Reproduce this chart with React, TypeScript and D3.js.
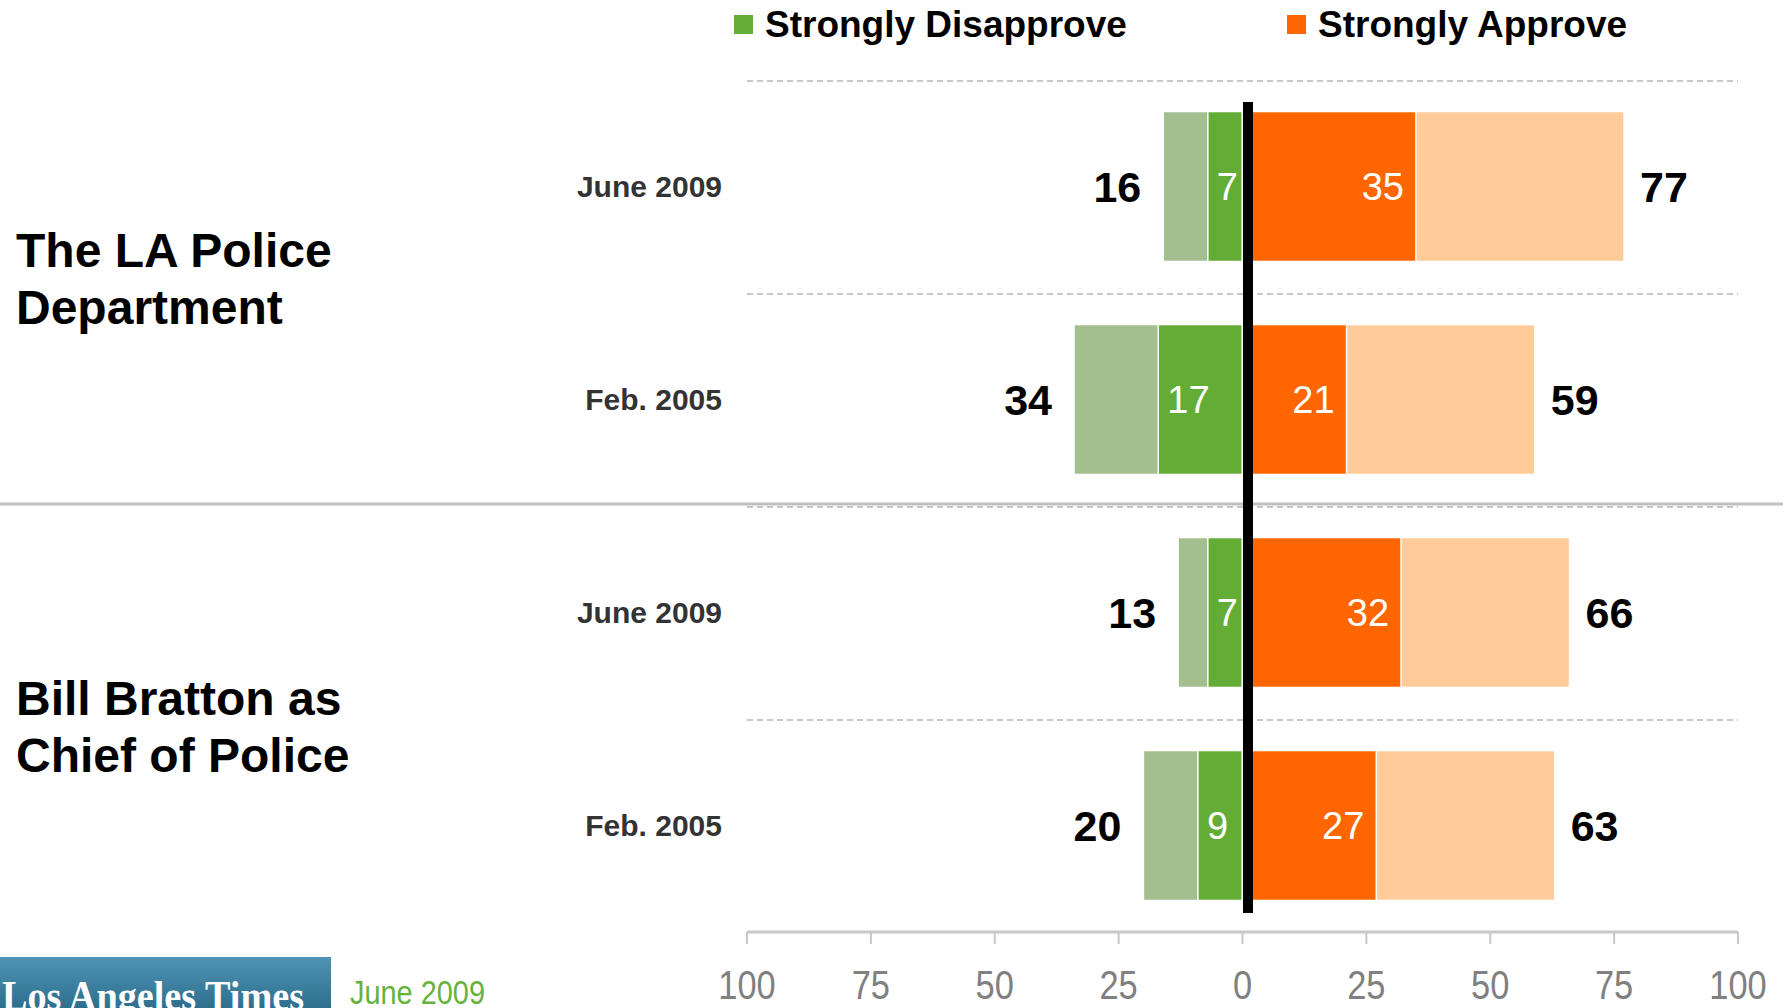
import React from 'react';
import * as d3 from 'd3';

// survey rows, top to bottom
const rowKeys = ['lapd-2009', 'lapd-2005', 'bratton-2009', 'bratton-2005'];
const periods = ['June 2009', 'Feb. 2005', 'June 2009', 'Feb. 2005'];
const totalDisapprove = [16, 34, 13, 20];
const strongDisapprove = [7, 17, 7, 9];
const strongApprove = [35, 21, 32, 27];
const totalApprove = [77, 59, 66, 63];

const groupLines = [
  ['The LA Police', 'Department'],
  ['Bill Bratton as', 'Chief of Police'],
];
const groupRows = [
  ['lapd-2009', 'lapd-2005'],
  ['bratton-2009', 'bratton-2005'],
];

const tickValues = [-100, -75, -50, -25, 0, 25, 50, 75, 100];
const legendItems = [
  { label: 'Strongly Disapprove', color: '#63ad37' },
  { label: 'Strongly Approve', color: '#ff6600' },
];

const W = 1790;
const H = 1008;
const FONT = '"Liberation Sans", Arial, Helvetica, sans-serif';

const colors = {
  lightGreen: '#a3bf8f',
  green: '#63ad37',
  orange: '#ff6600',
  lightOrange: '#ffcc99',
};

// group titles don't sit exactly centred on their rows in the original
const groupShift = [-26, -4];

const App: React.FC = () => {
  const x = d3.scaleLinear().domain([-100, 100]).range([747, 1738]);
  const y = d3
    .scaleBand<string>()
    .domain(rowKeys)
    .range([80, 932])
    .paddingInner(0.296)
    .paddingOuter(0.148);
  const step = y.step();
  const bw = y.bandwidth();
  const x0 = x(0);

  const valueFs = 43;
  const innerFs = 38;

  return (
    <svg
      width={W}
      height={H}
      style={{ position: 'absolute', left: 0, top: 0, display: 'block', background: '#fff' }}
      fontFamily={FONT}
    >
      <defs>
        <linearGradient id="logoGrad" x1="0" y1="0" x2="0" y2="1">
          <stop offset="0" stopColor="#4f93b5" />
          <stop offset="1" stopColor="#2e6f8e" />
        </linearGradient>
      </defs>

      {/* legend */}
      {legendItems.map((d, i) => {
        const lx = i === 0 ? 734 : 1287;
        return (
          <g key={d.label}>
            <rect x={lx} y={15} width={19} height={19} fill={d.color} />
            <text x={lx + 31} y={37} fontSize={37} fontWeight="bold" fill="#000">
              {d.label}
            </text>
          </g>
        );
      })}

      {/* dashed row separators */}
      {rowKeys.map((k, i) => {
        const yy = (y.range()[0] as number) + i * step;
        return (
          <line
            key={'grid' + k}
            x1={x(-100)}
            x2={x(100)}
            y1={yy + 1}
            y2={yy + 1}
            stroke="#c8c8c8"
            strokeWidth={2}
            strokeDasharray="6,4"
          />
        );
      })}

      {/* solid group separator */}
      <line x1={0} x2={1783} y1={504} y2={504} stroke="#c0c0c0" strokeWidth={3} />

      {/* bars */}
      {rowKeys.map((k, i) => {
        const by = y(k) as number;
        const cy = by + bw / 2;
        const segs = [
          { a: -totalDisapprove[i], b: 0, c: colors.lightGreen },
          { a: -strongDisapprove[i], b: 0, c: colors.green },
          { a: 0, b: totalApprove[i], c: colors.lightOrange },
          { a: 0, b: strongApprove[i], c: colors.orange },
        ];
        return (
          <g key={k}>
            {segs.map((s, j) => (
              <rect
                key={j}
                x={x(s.a)}
                y={by}
                width={x(s.b) - x(s.a)}
                height={bw}
                fill={s.c}
                stroke="#fff"
                strokeWidth={1.5}
              />
            ))}
            {/* inner strong labels */}
            <text
              x={x(-strongDisapprove[i]) + 9}
              y={cy + innerFs * 0.36}
              fontSize={innerFs}
              fill="#fff"
            >
              {strongDisapprove[i]}
            </text>
            <text
              x={x(strongApprove[i]) - 12}
              y={cy + innerFs * 0.36}
              fontSize={innerFs}
              fill="#fff"
              textAnchor="end"
            >
              {strongApprove[i]}
            </text>
            {/* total labels */}
            <text
              x={x(-totalDisapprove[i]) - 22}
              y={cy + valueFs * 0.36}
              fontSize={valueFs}
              fontWeight="bold"
              textAnchor="end"
              fill="#000"
            >
              {totalDisapprove[i]}
            </text>
            <text
              x={x(totalApprove[i]) + 16}
              y={cy + valueFs * 0.36}
              fontSize={valueFs}
              fontWeight="bold"
              fill="#000"
            >
              {totalApprove[i]}
            </text>
            {/* period label */}
            <text
              x={722}
              y={cy + 30 * 0.36}
              fontSize={30}
              fontWeight="bold"
              textAnchor="end"
              fill="#333"
            >
              {periods[i]}
            </text>
          </g>
        );
      })}

      {/* zero line */}
      <rect x={x0 + 0.5} y={102} width={10} height={811} fill="#000" />

      {/* group labels */}
      {groupLines.map((lines, gi) => {
        const r = groupRows[gi];
        const mid = ((y(r[0]) as number) + (y(r[1]) as number) + bw) / 2;
        return (
          <text key={gi} x={16} fontSize={48} fontWeight="bold" fill="#000">
            {lines.map((l, li) => (
              <tspan key={li} x={16} y={mid + groupShift[gi] + li * 57}>
                {l}
              </tspan>
            ))}
          </text>
        );
      })}

      {/* axis */}
      <line x1={x(-100)} x2={x(100)} y1={932} y2={932} stroke="#c8c8c8" strokeWidth={3} />
      {tickValues.map((t) => (
        <g key={t}>
          <line x1={x(t)} x2={x(t)} y1={932} y2={944} stroke="#c8c8c8" strokeWidth={2} />
          <text
            transform={`translate(${x(t)},999) scale(0.84,1)`}
            fontSize={41}
            textAnchor="middle"
            fill="#808080"
          >
            {Math.abs(t)}
          </text>
        </g>
      ))}

      {/* source logo and date */}
      <rect x={0} y={957} width={331} height={51} fill="url(#logoGrad)" />
      <text
        x={2}
        y={1010}
        fontSize={42}
        fontWeight="bold"
        fill="#fff"
        fontFamily='"Liberation Serif", "DejaVu Serif", serif'
        textLength={302}
        lengthAdjust="spacingAndGlyphs"
      >
        Los Angeles Times
      </text>
      <text
        transform="translate(350,1004) scale(0.85,1)"
        fontSize={34}
        fill="#66b23c"
      >
        June 2009
      </text>
    </svg>
  );
};

export default App;
